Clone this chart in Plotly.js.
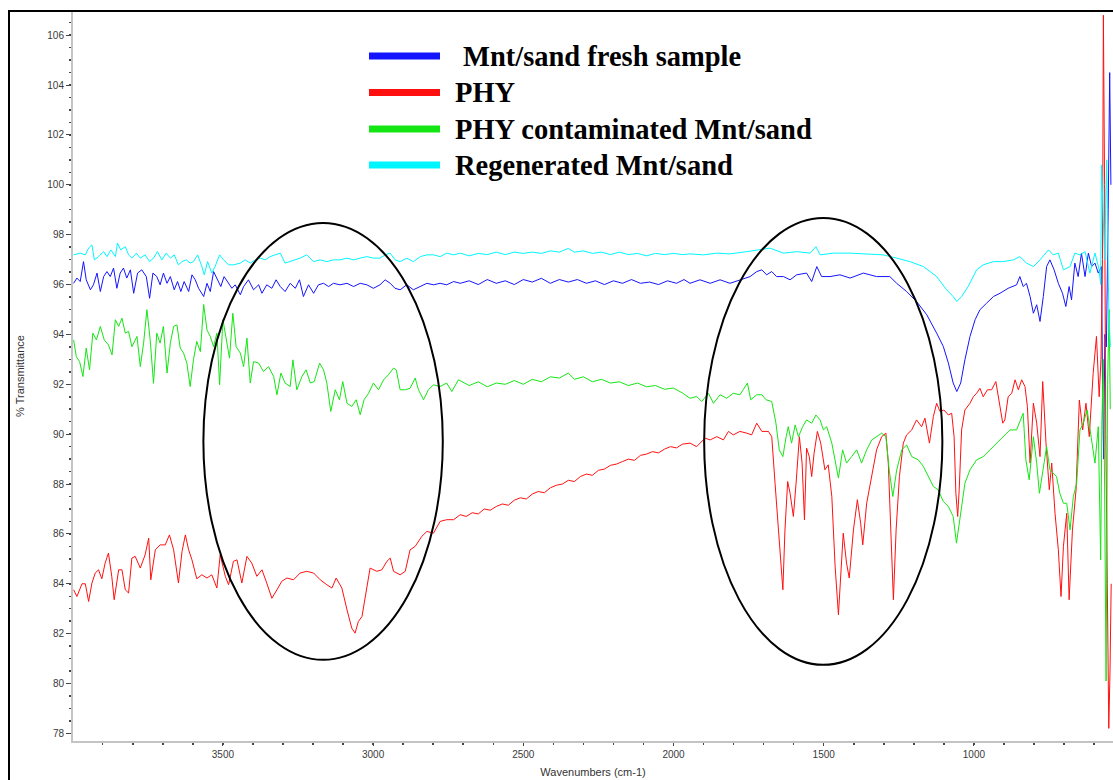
<!DOCTYPE html>
<html>
<head>
<meta charset="utf-8">
<script src="https://cdn.plot.ly/plotly-3.0.1.min.js"></script>
<style>
  html, body { margin: 0; padding: 0; background: #fff; }
  #chart { width: 1113px; height: 780px; }
</style>
</head>
<body>
<div id="chart"></div>
<script>
// FTIR spectra: wavenumber (cm-1) and % transmittance for each sample
const seriesNames = ['Mnt/sand fresh sample', 'PHY', 'PHY contaminated Mnt/sand', 'Regenerated Mnt/sand'];
const seriesColors = ['#1414ff', '#ff1010', '#14e614', '#00f6ff'];

const wnFresh = [3997,3986,3975,3964,3955,3941,3931,3919,3908,3897,3886,3875,3864,3853,3842,3831,3820,3808,3797,3784,3770,3755,3744,3733,3720,3709,3698,3686,3675,3662,3651,3640,3629,3614,3603,3592,3581,3564,3553,3542,3531,3518,3507,3496,3481,3470,3459,3442,3431,3415,3398,3381,3370,3354,3337,3323,3309,3293,3276,3259,3245,3232,3215,3198,3182,3165,3148,3132,3110,3087,3065,3043,3021,2999,2977,2960,2943,2927,2910,2888,2866,2843,2821,2799,2777,2755,2732,2710,2680,2650,2620,2590,2560,2530,2500,2470,2440,2410,2380,2350,2320,2290,2260,2230,2200,2170,2140,2110,2080,2050,2020,1990,1965,1945,1912,1878,1845,1812,1779,1745,1723,1706,1690,1673,1657,1634,1612,1590,1557,1540,1523,1507,1479,1446,1412,1368,1324,1280,1257,1224,1191,1157,1124,1102,1085,1069,1057,1044,1030,1013,996,980,958,935,913,886,858,847,836,825,813,802,791,780,769,758,747,733,719,705,694,683,675,664,653,642,630,619,608,597,586,575,572,568,564,559,553,548,544];
const tFresh = [96.05,96.26,96.12,96.92,96.19,95.79,95.99,96.46,95.72,96.32,96.52,96.32,96.66,95.85,96.46,96.66,96.26,96.59,95.65,96.46,96.59,96.32,95.45,96.46,96.32,95.99,96.46,96.05,96.32,95.79,96.12,95.72,96.12,95.72,96.39,96.19,95.85,95.52,96.05,95.72,96.52,96.19,95.92,96.32,96.05,95.85,95.99,95.59,95.92,96.19,95.79,95.99,95.65,95.99,95.85,96.19,95.92,95.72,96.05,95.85,96.19,95.52,95.99,95.65,95.99,96.05,95.92,96.05,95.99,96.05,95.92,96.05,95.99,95.85,95.99,96.19,96.05,95.85,95.79,95.99,95.79,95.92,96.05,95.99,96.05,95.99,96.12,96.05,96.15,96.0,96.2,96.05,96.15,96.0,96.2,96.1,96.25,96.05,96.2,96.1,96.2,96.05,96.15,96.0,96.15,96.05,96.2,96.05,96.1,96.0,96.15,96.05,96.2,96.05,96.19,96.05,96.19,96.05,96.19,96.32,96.52,96.59,96.39,96.52,96.32,96.32,96.19,96.39,96.46,96.12,96.72,96.32,96.32,96.39,96.26,96.46,96.32,96.32,96.05,95.72,95.32,94.79,94.05,93.52,92.85,92.05,91.71,92.05,92.98,93.92,94.59,94.99,95.25,95.52,95.65,95.85,95.99,96.32,95.92,96.05,95.52,94.85,95.19,94.52,95.52,96.72,96.99,96.59,96.05,95.65,95.12,95.92,95.39,96.86,96.32,97.26,96.32,97.26,96.72,96.86,96.46,96.72,92.0,89.0,94.0,93.5,99.0,104.5,100.0];

const wnPHY = [3997,3986,3969,3958,3947,3936,3925,3914,3903,3892,3881,3870,3862,3847,3836,3825,3814,3803,3792,3775,3759,3747,3740,3725,3709,3692,3678,3664,3648,3636,3625,3614,3603,3587,3570,3553,3537,3520,3509,3492,3481,3465,3453,3437,3420,3404,3387,3370,3354,3337,3320,3304,3287,3265,3243,3221,3198,3176,3154,3137,3123,3104,3087,3071,3060,3049,3037,3023,3010,2988,2971,2954,2943,2932,2910,2893,2877,2860,2838,2821,2799,2777,2755,2732,2710,2690,2670,2650,2630,2610,2590,2570,2550,2530,2510,2490,2470,2450,2430,2410,2390,2370,2350,2330,2310,2290,2270,2250,2230,2210,2190,2170,2150,2130,2110,2090,2070,2050,2030,2010,1990,1970,1945,1923,1895,1878,1856,1834,1817,1801,1779,1756,1740,1723,1706,1684,1673,1662,1651,1636,1629,1620,1612,1601,1592,1581,1572,1564,1557,1548,1540,1532,1521,1510,1496,1485,1473,1462,1451,1444,1435,1424,1415,1401,1388,1377,1370,1357,1340,1324,1307,1293,1285,1276,1268,1259,1248,1235,1224,1207,1191,1174,1163,1148,1135,1124,1113,1100,1085,1074,1066,1060,1054,1049,1041,1030,1013,1002,991,980,969,955,941,927,916,904,897,886,874,863,852,841,830,822,813,802,791,780,771,760,749,741,730,719,710,702,691,683,672,660,649,638,627,616,603,592,583,577,572,569,565,561,556,551,547,543];
const tPHY = [83.76,83.49,84.0,84.0,83.29,84.03,84.43,84.56,84.2,84.83,85.23,84.3,83.36,84.56,84.56,83.76,83.63,85.03,85.1,84.63,85.16,85.83,84.16,85.36,85.56,85.56,85.96,85.36,84.03,85.3,85.96,85.36,84.96,84.2,84.36,84.23,84.36,83.83,85.16,84.3,83.96,84.9,84.96,84.03,85.1,84.83,84.3,84.56,84.03,83.42,83.76,84.1,84.23,84.16,84.43,84.5,84.43,84.16,83.96,83.83,84.23,83.83,82.96,82.22,82.02,82.49,82.69,83.76,84.63,84.5,84.56,84.9,85.03,84.5,84.36,84.5,85.36,85.5,85.9,86.1,86.03,86.5,86.57,86.57,86.77,86.7,86.85,86.8,87.0,86.95,87.1,87.2,87.15,87.35,87.45,87.4,87.6,87.7,87.65,87.85,87.95,88.0,88.15,88.1,88.3,88.4,88.35,88.55,88.6,88.75,88.8,88.9,89.0,88.95,89.15,89.2,89.3,89.25,89.4,89.5,89.45,89.6,89.64,89.5,89.84,89.77,89.9,89.77,90.11,89.97,90.11,90.04,89.97,90.44,90.11,90.11,89.9,88.03,86.16,83.76,86.16,88.1,87.63,86.7,88.03,89.9,88.84,86.56,89.44,89.1,88.3,89.24,90.11,89.64,88.57,88.77,87.5,84.69,82.76,84.16,86.03,84.83,84.23,86.16,87.37,86.43,85.56,87.23,88.3,89.37,89.9,90.04,88.84,86.16,83.36,86.16,88.3,89.64,89.97,90.17,90.57,90.3,90.64,89.64,90.71,91.24,90.91,90.97,90.77,90.84,89.9,87.63,86.7,87.77,90.17,90.97,91.24,91.5,91.64,91.84,91.5,91.78,91.78,92.11,91.24,90.44,90.57,91.5,91.64,92.18,91.78,92.18,91.91,91.11,88.84,91.24,90.44,89.1,92.11,89.64,87.77,88.84,86.83,85.36,83.49,85.5,86.83,83.36,86.16,87.77,91.37,90.17,91.24,89.9,92.44,93.92,91.5,93.0,97.0,106.8,100.0,90.0,84.0,78.2,80.5,84.0];

const wnContam = [3997,3988,3977,3966,3955,3944,3933,3921,3908,3895,3881,3869,3858,3847,3836,3825,3814,3803,3786,3775,3764,3753,3742,3731,3720,3709,3698,3686,3675,3664,3653,3642,3631,3620,3609,3598,3587,3575,3564,3553,3542,3531,3520,3511,3500,3489,3478,3467,3456,3442,3431,3420,3409,3398,3381,3365,3348,3331,3320,3307,3293,3276,3267,3254,3237,3223,3209,3196,3178,3165,3154,3141,3126,3112,3101,3087,3071,3056,3043,3030,3015,2999,2982,2965,2949,2932,2923,2910,2893,2877,2860,2849,2832,2816,2799,2777,2755,2738,2716,2680,2650,2620,2590,2560,2530,2500,2470,2440,2410,2380,2350,2330,2300,2270,2240,2210,2180,2150,2120,2090,2060,2030,2000,1970,1945,1923,1906,1884,1867,1845,1823,1801,1779,1768,1754,1743,1723,1706,1692,1673,1659,1648,1636,1625,1618,1607,1595,1584,1570,1557,1540,1526,1512,1501,1490,1473,1451,1437,1424,1407,1390,1374,1357,1340,1324,1307,1293,1282,1270,1257,1240,1224,1207,1185,1168,1152,1135,1119,1102,1085,1069,1058,1046,1030,1013,991,969,947,924,902,880,858,836,827,816,802,791,782,769,758,747,736,725,714,702,691,680,669,658,647,636,623,614,597,586,578,574,569,565,560,555,550,546];
const tContam = [93.78,93.11,92.91,92.31,93.45,92.58,94.05,93.78,94.32,93.78,93.58,93.18,94.59,94.32,94.65,94.05,94.12,93.51,93.92,92.71,93.65,94.99,93.78,92.04,94.05,93.65,94.32,92.45,93.65,94.32,94.38,93.45,93.25,92.85,91.91,92.98,93.72,93.31,95.2,94.18,93.92,93.51,94.05,91.98,94.59,93.78,93.05,94.85,93.51,93.25,92.71,93.85,92.05,92.91,92.85,92.51,92.71,92.31,91.58,92.45,92.05,91.91,92.98,91.78,92.31,92.58,92.05,92.11,92.85,92.58,92.05,90.91,91.78,91.38,92.11,91.24,91.11,91.38,90.78,91.38,91.64,92.05,91.78,92.18,92.38,92.65,92.58,91.78,91.78,91.84,92.25,91.78,91.38,91.78,91.98,91.91,92.05,91.71,92.18,91.95,92.1,91.9,92.05,92.0,92.15,92.0,92.2,92.1,92.3,92.25,92.45,92.2,92.3,92.1,92.2,92.05,92.1,91.95,92.05,91.9,91.95,91.8,91.85,91.65,91.44,91.51,91.31,91.64,91.24,91.58,91.44,91.64,91.58,91.78,92.05,91.38,91.58,91.58,91.38,91.31,90.44,89.37,89.1,89.9,90.3,89.64,90.37,89.9,90.3,90.57,90.44,90.77,90.57,90.17,90.3,89.64,88.24,89.37,88.84,89.1,89.37,88.84,89.37,89.77,89.9,90.04,89.9,88.57,87.5,88.57,89.37,89.57,89.1,88.97,88.7,88.3,87.9,87.77,87.3,87.1,86.7,85.63,86.7,88.03,88.57,88.97,89.1,89.37,89.64,89.9,90.17,90.17,90.84,88.97,88.17,89.9,88.84,87.63,88.57,89.5,88.57,88.44,88.3,87.63,87.23,87.23,86.16,87.5,88.03,90.17,90.44,90.97,90.17,88.84,90.3,84.96,90.5,93.0,88.0,80.1,92.0,95.0,91.0];

const wnRegen = [3997,3975,3958,3947,3936,3928,3914,3897,3886,3873,3858,3851,3840,3825,3814,3803,3788,3775,3759,3744,3731,3718,3703,3689,3675,3662,3648,3636,3622,3609,3598,3584,3570,3562,3551,3537,3526,3511,3498,3481,3465,3442,3426,3409,3392,3376,3359,3343,3326,3309,3293,3276,3259,3243,3221,3198,3176,3154,3132,3110,3087,3065,3043,3021,2999,2977,2960,2943,2927,2910,2888,2866,2843,2821,2799,2777,2755,2732,2710,2680,2650,2620,2590,2560,2530,2500,2470,2440,2410,2380,2350,2330,2300,2270,2240,2210,2180,2150,2120,2090,2060,2030,2000,1970,1945,1900,1856,1812,1756,1712,1679,1634,1590,1545,1526,1512,1468,1412,1357,1302,1257,1213,1168,1124,1091,1069,1057,1041,1019,991,969,935,902,869,847,825,802,780,752,736,719,702,680,664,647,630,614,597,583,578,575,571,565,558,551,546];
const tRegen = [97.19,97.26,97.19,97.46,97.59,96.99,97.12,97.32,97.12,97.39,97.12,97.66,97.39,97.52,97.19,97.06,97.26,97.06,97.19,96.92,97.06,97.32,96.99,97.26,97.06,97.19,96.79,96.92,96.99,96.86,96.92,97.19,96.72,96.39,96.92,96.46,96.72,97.19,96.99,96.79,96.79,96.86,96.99,96.86,96.99,97.06,96.99,97.12,97.19,97.26,96.86,96.92,96.99,97.06,97.19,96.92,96.99,96.92,96.99,96.99,97.06,96.99,97.06,97.12,97.06,97.06,97.19,97.26,96.99,96.92,97.06,96.92,97.12,97.19,97.19,97.12,97.26,97.19,97.26,97.15,97.25,97.2,97.3,97.2,97.3,97.25,97.3,97.25,97.35,97.3,97.45,97.3,97.35,97.25,97.3,97.2,97.3,97.2,97.25,97.15,97.25,97.2,97.25,97.2,97.23,97.19,97.26,97.23,97.32,97.39,97.46,97.26,97.32,97.26,97.52,97.19,97.26,97.26,97.23,97.19,97.06,96.92,96.72,96.32,95.79,95.52,95.32,95.52,95.92,96.59,96.79,96.92,96.92,96.99,97.12,96.86,96.72,96.99,97.39,97.19,97.26,96.59,96.72,97.26,97.19,97.32,96.46,97.26,96.59,96.0,100.8,99.0,97.0,101.0,95.0,93.5];

const xTickVals = [3500, 3000, 2500, 2000, 1500, 1000];
const yTickVals = [78, 80, 82, 84, 86, 88, 90, 92, 94, 96, 98, 100, 102, 104, 106];

// plot-area geometry in pixels, used for paper-referenced decorations
const W = 1113, H = 780;
const M = { l: 73, r: 0, t: 11, b: 39 };
const plotW = W - M.l - M.r, plotH = H - M.t - M.b;
const px = x => (x - M.l) / plotW;
const py = y => (H - M.b - y) / plotH;

const xs = [wnFresh, wnPHY, wnContam, wnRegen];
const ys = [tFresh, tPHY, tContam, tRegen];

const traces = seriesNames.map((name, i) => ({
  type: 'scatter',
  mode: 'lines',
  name: name,
  x: xs[i],
  y: ys[i],
  line: { color: seriesColors[i], width: 1 },
  hoverinfo: 'x+y+name'
}));

const tickFont = { family: 'Liberation Sans, Arial, sans-serif', size: 10, color: '#3a3a3a' };

const shapes = [
  // outer frame around the figure
  { type: 'rect', xref: 'paper', yref: 'paper', x0: px(9), x1: px(1200), y0: py(900), y1: py(11),
    line: { color: '#000', width: 2 }, fillcolor: 'rgba(0,0,0,0)', layer: 'above' },
  // highlighted regions
  { type: 'circle', xref: 'x', yref: 'y', x0: 3565, x1: 2768, y0: 80.95, y1: 98.47,
    line: { color: '#000', width: 2 } },
  { type: 'circle', xref: 'x', yref: 'y', x0: 1898, x1: 1105, y0: 80.75, y1: 98.67,
    line: { color: '#000', width: 2 } }
];

// hand-drawn legend: thick colour bars with bold serif labels
const legendRows = [56, 92.5, 129, 165];
const legendTextX = [461, 453, 453, 453];
const annotations = [];
seriesNames.forEach((name, i) => {
  shapes.push({ type: 'line', xref: 'paper', yref: 'paper', x0: px(369), x1: px(440),
    y0: py(legendRows[i]), y1: py(legendRows[i]), line: { color: seriesColors[i], width: 7 } });
  annotations.push({ xref: 'paper', yref: 'paper', x: px(legendTextX[i]), y: py(legendRows[i]),
    xanchor: 'left', yanchor: 'middle', showarrow: false, text: name,
    font: { family: 'Liberation Serif, Times New Roman, serif', size: 28.5, color: '#000', weight: 'bold' } });
});

const layout = {
  width: W, height: H,
  margin: M,
  paper_bgcolor: '#fff', plot_bgcolor: '#fff',
  showlegend: false,
  xaxis: {
    range: [3999, 537], autorange: false,
    tickvals: xTickVals, ticktext: xTickVals.map(String),
    ticks: 'outside', ticklen: 3, tickwidth: 1, tickcolor: '#444',
    minor: { dtick: 100, tick0: 0, ticks: 'outside', ticklen: 2, tickwidth: 1.5, tickcolor: '#444' },
    showline: true, linecolor: '#c4c4c4', linewidth: 2, mirror: false,
    showgrid: false, zeroline: false, automargin: false,
    tickfont: tickFont,
    title: { text: 'Wavenumbers (cm-1)', standoff: 9,
      font: { family: 'Liberation Sans, Arial, sans-serif', size: 11, color: '#333' } }
  },
  yaxis: {
    range: [77.695, 106.97], autorange: false,
    tickvals: yTickVals, ticktext: yTickVals.map(String),
    ticks: 'outside', ticklen: 5, tickwidth: 1, tickcolor: '#444',
    minor: { dtick: 0.5, tick0: 0, ticks: 'outside', ticklen: 2, tickwidth: 1.5, tickcolor: '#444' },
    showline: true, linecolor: '#c4c4c4', linewidth: 2,
    showgrid: false, zeroline: false, automargin: false,
    tickfont: tickFont,
    title: { text: '% Transmittance', standoff: 20,
      font: { family: 'Liberation Sans, Arial, sans-serif', size: 11, color: '#333' } }
  },
  shapes: shapes,
  annotations: annotations
};

Plotly.newPlot('chart', traces, layout, { displayModeBar: false, staticPlot: true });
</script>
</body>
</html>
